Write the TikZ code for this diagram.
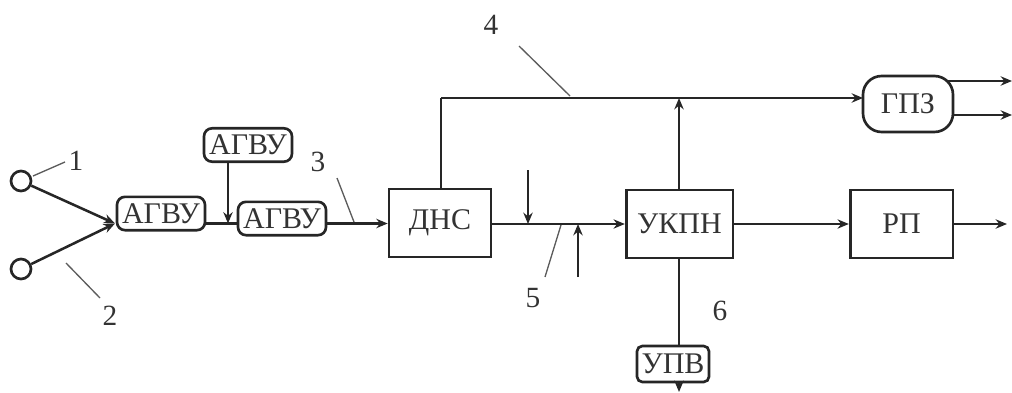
\documentclass[tikz,border=0pt]{standalone}
\usepackage{fontspec}
\setmainfont{Liberation Serif}
\usetikzlibrary{arrows.meta,calc}
\definecolor{ink}{HTML}{262626}
\definecolor{txt}{HTML}{333333}
\tikzset{
  x=0.75pt,y=-0.75pt,
  wire/.style={draw=ink,line width=1.9pt},
  flow/.style={wire,-{Stealth[length=8.5pt,width=7pt]}},
  thin leader/.style={draw=ink!75,line width=1pt},
  blockbox/.style={draw=ink,line width=2pt,text=txt,inner sep=0pt,font=\fontsize{22.5}{22}\selectfont},
  roundbox/.style={blockbox,rounded corners=6pt,font=\fontsize{22.5}{22}\selectfont},
  num/.style={text=txt,inner sep=0pt,font=\fontsize{22}{22}\selectfont},
  port/.style={circle,draw=ink,line width=2pt,minimum size=15pt,inner sep=0pt},
}
\begin{document}
\begin{tikzpicture}
\useasboundingbox (0,0) rectangle (1012,392);
% blocks
\node[port] (p1) at (21,181) {};
\node[port] (p2) at (21,269) {};
\node[roundbox,minimum width=66pt,minimum height=25pt] (a1) at (161,213.5) {АГВУ};
\node[roundbox,minimum width=66pt,minimum height=25pt] (a2) at (282,218.5) {АГВУ};
\node[roundbox,minimum width=66pt,minimum height=25pt] (a3) at (248,145) {АГВУ};
\node[blockbox,minimum width=76.5pt,minimum height=51pt] (dns) at (440,223) {ДНС};
\node[blockbox,minimum width=80pt,minimum height=51pt] (ukpn) at (679.5,224) {УКПН};
\node[blockbox,minimum width=77pt,minimum height=51pt] (rp) at (901.5,224) {РП};
\node[roundbox,rounded corners=14pt,minimum width=67.5pt,minimum height=42pt] (gpz) at (908,104) {ГПЗ};
\node[roundbox,rounded corners=4pt,minimum width=54pt,minimum height=27pt] (upv) at (673,364) {УПВ};
% free ends
\coordinate (j) at (115,223.5);
\coordinate (t) at (441,98);
\coordinate (tu) at (679,98);
\coordinate (tg) at (863,98);
\coordinate (g1s) at (947,81);
\coordinate (g1) at (1012,81);
\coordinate (g2) at (1012,115);
\coordinate (rout) at (1007,224);
\coordinate (uout) at (679,392);
\coordinate (d1) at (528,170);
\coordinate (d1e) at (528,224);
\coordinate (d2) at (578,277);
\coordinate (d2e) at (578,224);
% connectors
\draw[flow] (p1) -- (j);
\draw[flow] (p2) -- (j);
\draw[wire] (a1.east |- j) -- (a2.west |- j);
\draw[flow] (a3.south -| 228,0) -- (228,223.5);
\draw[flow] (a2.east |- j) -- (dns.west |- j);
\draw[wire] (dns.north -| t) -- (t);
\draw[flow] (t) -- (tg);
\draw[flow] (ukpn.north -| tu) -- (tu);
\draw[flow] (dns.east |- ukpn.west) -- (ukpn.west);
\draw[flow] (d1) -- (d1e);
\draw[flow] (d2) -- (d2e);
\draw[flow] (ukpn.east) -- (rp.west);
\draw[flow] (rp.east) -- (rout);
\draw[flow] (g1s) -- (g1);
\draw[flow] (gpz.east |- g2) -- (g2);
\draw[wire] (ukpn.south -| tu) -- (upv.north -| tu);
\draw[flow] (upv.south -| tu) -- (uout);
% numbers and leaders
\node[num] (n1) at (76,161) {1};
\node[num] (n2) at (110,316) {2};
\node[num] (n3) at (318,162) {3};
\node[num] (n4) at (491,25) {4};
\node[num] (n5) at (533,298) {5};
\node[num] (n6) at (720,311) {6};
\coordinate (l1) at (33,176);
\coordinate (l1e) at (65,162);
\coordinate (l2) at (66,263);
\coordinate (l2e) at (100,298);
\coordinate (l3) at (337,178);
\coordinate (l3e) at (354,222);
\coordinate (l4) at (519,46);
\coordinate (l4e) at (570,96);
\coordinate (l5) at (545,277);
\coordinate (l5e) at (561,225);
\draw[thin leader] (l1) -- (l1e);
\draw[thin leader] (l2) -- (l2e);
\draw[thin leader] (l3) -- (l3e);
\draw[thin leader] (l4) -- (l4e);
\draw[thin leader] (l5) -- (l5e);
\end{tikzpicture}
\end{document}
